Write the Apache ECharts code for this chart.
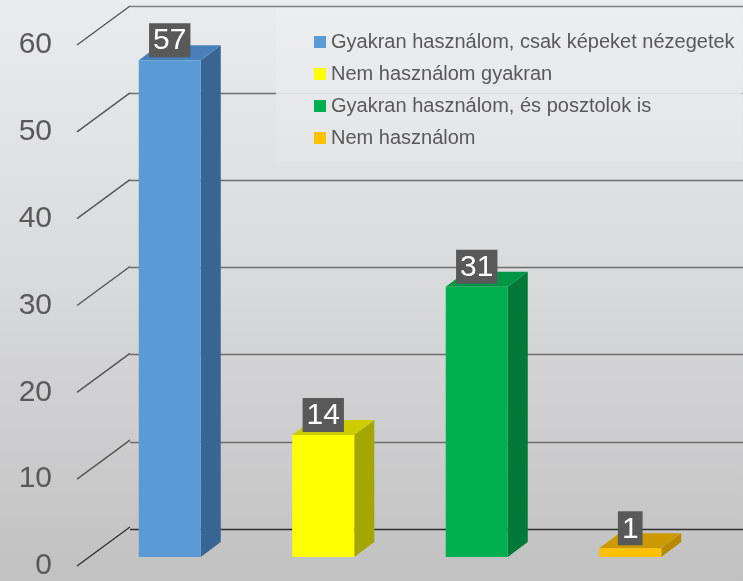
<!DOCTYPE html>
<html><head><meta charset="utf-8">
<script src="https://cdn.jsdelivr.net/npm/echarts@6/dist/echarts.min.js"></script>
<style>html,body{margin:0;padding:0;}#c{width:743px;height:581px;}</style>
</head><body><div id="c"></div>
<script>
// ---- data ----
const categories = ['Gyakran használom, csak képeket nézegetek', 'Nem használom gyakran', 'Gyakran használom, és posztolok is', 'Nem használom'];
const values = [57, 14, 31, 1];
const yTicks = [0, 10, 20, 30, 40, 50, 60];

// ---- styles ----
const frontColors = ['#5b9bd5', '#ffff00', '#00b050', '#ffc000'];
const topColors = ['#4a80ba', '#cccc00', '#009645', '#cc9a00'];
const sideColors = ['#396592', '#a6a600', '#007a36', '#b88a00'];
const BAR_DX = 20, BAR_DY = -15;      // bar depth
const WALL_DX = 53, WALL_DY = -39;    // floor depth (front edge -> back wall)
const FONT = '"Liberation Sans", Arial, sans-serif';

function barRender(i) {
  return function (params, api) {
    const v = api.value(1);
    const base = api.coord([api.value(0), 0]);
    const top = api.coord([api.value(0), v]);
    const bw = api.size([1, 0])[0] * 0.404;
    const x0 = base[0] - bw / 2, x1 = base[0] + bw / 2;
    const y0 = base[1], y1 = top[1];
    return {
      type: 'group', children: [
        { type: 'polygon', shape: { points: [[x1, y0], [x1 + BAR_DX, y0 + BAR_DY], [x1 + BAR_DX, y1 + BAR_DY], [x1, y1]] }, style: { fill: sideColors[i] } },
        { type: 'polygon', shape: { points: [[x0, y1], [x1, y1], [x1 + BAR_DX, y1 + BAR_DY], [x0 + BAR_DX, y1 + BAR_DY]] }, style: { fill: topColors[i] } },
        { type: 'rect', shape: { x: x0, y: y1, width: bw, height: y0 - y1 }, style: { fill: frontColors[i] } },
        { type: 'text', x: base[0], y: y1 - 3, z2: 10, style: { text: String(v), fill: '#ffffff', backgroundColor: '#595959', padding: [3, 4, 1, 4], fontSize: 30, fontFamily: FONT, align: 'center', verticalAlign: 'bottom' } }
      ]
    };
  };
}

const barSeries = categories.map((name, i) => ({
  type: 'custom', name: name, xAxisIndex: 0, yAxisIndex: 0, z: 5,
  itemStyle: { color: frontColors[i] },
  renderItem: barRender(i),
  data: [[i, values[i]]]
}));

const diagSeries = {
  type: 'custom', xAxisIndex: 2, yAxisIndex: 2, z: 1, silent: true,
  renderItem: function (params, api) {
    const v = api.value(1);
    const p = api.coord([0, v]);
    return { type: 'line', shape: { x1: p[0], y1: p[1], x2: p[0] + WALL_DX, y2: p[1] + WALL_DY }, style: { stroke: v === 0 ? '#333333' : '#555555', lineWidth: 1.4 } };
  },
  data: yTicks.map(v => [0, v])
};

const chart = echarts.init(document.getElementById('c'), null, { renderer: 'canvas' });
chart.setOption({
  animation: false,
  backgroundColor: { type: 'linear', x: 0, y: 0, x2: 0, y2: 1, colorStops: [{ offset: 0, color: '#e9ebed' }, { offset: 0.5, color: '#d8d9db' }, { offset: 1, color: '#c1c1c1' }] },
  grid: [
    { left: 93, right: 36, top: 34, bottom: 24 },
    { left: 130, right: 0, top: 6, bottom: 52 },
    { left: 77, right: 0, top: 45, bottom: 13 }
  ],
  xAxis: [
    { gridIndex: 0, type: 'category', data: categories, show: false },
    { gridIndex: 1, type: 'value', min: 0, max: 1, show: false },
    { gridIndex: 2, type: 'value', min: 0, max: 1, show: false }
  ],
  yAxis: [
    { gridIndex: 0, type: 'value', min: 0, max: 60, interval: 10, show: false },
    { gridIndex: 1, type: 'value', min: 0, max: 60, interval: 10, axisLine: { show: false }, axisTick: { show: false }, axisLabel: { show: false },
      splitLine: { show: true, lineStyle: { color: ['#2f2f2f', '#6e6e6e', '#6e6e6e', '#6e6e6e', '#6e6e6e', '#6e6e6e', '#808080'], width: 1.4 } } },
    { gridIndex: 2, type: 'value', min: 0, max: 60, interval: 10, axisLine: { show: false }, axisTick: { show: false }, splitLine: { show: false },
      axisLabel: { margin: 25, color: '#595959', fontSize: 30, fontFamily: FONT, formatter: v => yTicks.includes(v) ? String(v) : '' } }
  ],
  legend: {
    orient: 'vertical', left: 276, top: 8,
    padding: [24, 8, 14, 38],
    backgroundColor: { type: 'linear', x: 0, y: 0, x2: 0, y2: 1, colorStops: [{ offset: 0, color: 'rgba(236,238,240,0.92)' }, { offset: 1, color: 'rgba(227,229,231,0.92)' }] },
    icon: 'rect', itemWidth: 12, itemHeight: 12, itemGap: 12,
    textStyle: { color: '#595959', fontSize: 20, fontFamily: FONT, lineHeight: 20 },
    data: categories
  },
  series: [diagSeries].concat(barSeries)
});
</script>
</body></html>
